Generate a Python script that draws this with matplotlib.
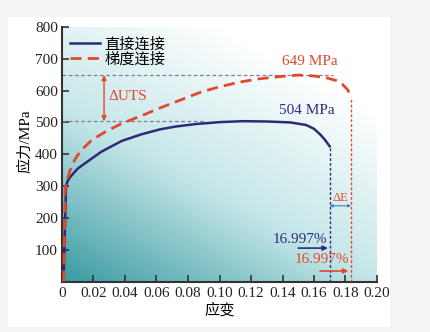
import numpy as np
import matplotlib
matplotlib.use("Agg")
import matplotlib.pyplot as plt
from matplotlib.colors import LinearSegmentedColormap
from matplotlib.patches import Rectangle

plt.rcParams['font.family'] = ['Liberation Serif', 'Noto Sans CJK SC', 'DejaVu Sans']

# 直接连接 (direct joint)
strain_direct = [0.001, 0.0025, 0.003, 0.004, 0.006, 0.010, 0.017, 0.025, 0.038, 0.050,
                 0.062, 0.072, 0.085, 0.100, 0.115, 0.130, 0.145, 0.155, 0.160, 0.164,
                 0.167, 0.16997]
stress_direct = [0, 290, 308, 320, 333, 355, 380, 408, 442, 462,
                 478, 487, 495, 501, 504, 503, 500, 492, 480, 462,
                 445, 425]

# 梯度连接 (gradient joint)
strain_grad = [0.001, 0.002, 0.003, 0.005, 0.008, 0.012, 0.019, 0.028, 0.038, 0.050,
               0.062, 0.075, 0.088, 0.100, 0.113, 0.125, 0.138, 0.150, 0.160, 0.168,
               0.174, 0.178, 0.1815, 0.1835]
stress_grad = [0, 290, 315, 348, 382, 412, 445, 472, 497, 520,
               545, 570, 595, 612, 627, 637, 644, 649, 646, 640,
               632, 620, 602, 580]

uts_direct = 504
uts_grad = 649
elong_direct = 0.16997
elong_grad = 0.1835

xticks = [0, 0.02, 0.04, 0.06, 0.08, 0.10, 0.12, 0.14, 0.16, 0.18, 0.20]
xtick_labels = ['0', '0.02', '0.04', '0.06', '0.08', '0.10', '0.12', '0.14', '0.16', '0.18', '0.20']
yticks = [100, 200, 300, 400, 500, 600, 700, 800]

navy = '#2e2a78'
red = '#e2492b'

fig = plt.figure(figsize=(4.31, 3.32), dpi=100)
fig.patch.set_facecolor('#f4f4f4')
fig.patches.append(Rectangle((8 / 431, 1 - 327 / 332), 382 / 431, 310 / 332,
                             transform=fig.transFigure, facecolor='white',
                             edgecolor='none', zorder=-10))

ax = fig.add_axes([62 / 431, 1 - 281.5 / 332, 315 / 431, 254.5 / 332])
ax.set_xlim(0, 0.2)
ax.set_ylim(0, 800)
ax.patch.set_alpha(0)

# teal-to-white background wash
gx, gy = np.meshgrid(np.linspace(0, 1, 200), np.linspace(0, 1, 200))
shade = np.clip(1 - 0.5 * gx - 0.75 * gy, 0, 1)
cmap = LinearSegmentedColormap.from_list('wash', ['#ffffff', '#c4e6e8', '#3a9ba2'])
ax.imshow(shade, extent=[0, 0.2, 0, 800], origin='lower', aspect='auto',
          cmap=cmap, vmin=0, vmax=1, zorder=0)

# UTS reference lines
ax.plot([0, 0.172], [uts_grad, uts_grad], color='#7b7f9c', lw=0.9, ls=(0, (3, 2)), zorder=2)
ax.plot([0, 0.09], [uts_direct, uts_direct], color='#7b7f9c', lw=0.9, ls=(0, (3, 2)), zorder=2)

ax.plot(strain_direct, stress_direct, color=navy, lw=1.8, zorder=4, label='直接连接')
ax.plot(strain_grad, stress_grad, color=red, lw=2.0, ls=(0, (4, 2.2)), zorder=4, label='梯度连接')

# fracture strain markers
ax.plot([elong_direct, elong_direct], [0, stress_direct[-1]], color=navy, lw=1.0,
        ls=(0, (2, 1.5)), zorder=3)
ax.plot([elong_grad, elong_grad], [0, stress_grad[-1]], color=red, lw=1.0,
        ls=(0, (2, 1.5)), zorder=3)

# ΔUTS
ax.annotate('', xy=(0.0267, uts_grad), xytext=(0.0267, uts_direct),
            arrowprops=dict(arrowstyle='<|-|>', color=red, lw=1.0, mutation_scale=7,
                            shrinkA=0, shrinkB=0), zorder=5)
ax.text(0.0292, 580, 'ΔUTS', color=red, fontsize=11, va='center', ha='left')

ax.text(0.1575, 690, f'{uts_grad} MPa', color=red, fontsize=11, ha='center', va='center')
ax.text(0.1556, 538, f'{uts_direct} MPa', color=navy, fontsize=11, ha='center', va='center')

# ΔE
ax.annotate('', xy=(elong_grad, 238), xytext=(elong_direct, 238),
            arrowprops=dict(arrowstyle='<|-|>', color='#4a78c0', lw=0.8, mutation_scale=4,
                            shrinkA=0, shrinkB=0), zorder=5)
ax.text((elong_direct + elong_grad) / 2, 264, 'ΔE', color=red, fontsize=9,
        ha='center', va='center')

# elongation labels
ax.text(0.151, 131, '16.997%', color=navy, fontsize=11, ha='center', va='center')
ax.annotate('', xy=(0.1688, 105), xytext=(0.150, 105),
            arrowprops=dict(arrowstyle='-|>', color=navy, lw=1.2, mutation_scale=7,
                            shrinkA=0, shrinkB=0), zorder=5)
ax.text(0.165, 68, '16.997%', color=red, fontsize=11, ha='center', va='center')
ax.annotate('', xy=(0.1818, 33), xytext=(0.1638, 33),
            arrowprops=dict(arrowstyle='-|>', color=red, lw=1.2, mutation_scale=7,
                            shrinkA=0, shrinkB=0), zorder=5)

ax.set_xticks(xticks)
ax.set_xticklabels(xtick_labels)
ax.set_yticks(yticks)
ax.tick_params(direction='in', length=5, width=1.2, colors='#333333',
               labelsize=11, labelcolor='#222222')
ax.tick_params(axis='x', pad=4)
ax.tick_params(axis='y', pad=3)
for side in ['top', 'right']:
    ax.spines[side].set_visible(False)
for side in ['left', 'bottom']:
    ax.spines[side].set_color('#333333')
    ax.spines[side].set_linewidth(1.5)

ax.set_xlabel('应变', fontsize=11, labelpad=2)
ax.set_ylabel('应力/MPa', fontsize=11)
ax.yaxis.set_label_coords(-0.095, 0.552)

leg = ax.legend(loc='upper left', frameon=False, fontsize=11, handlelength=2.0,
                borderaxespad=0.1, handletextpad=0.3, labelspacing=0.05,
                bbox_to_anchor=(0.0, 0.99))

fig.savefig('out.png', dpi=100)
